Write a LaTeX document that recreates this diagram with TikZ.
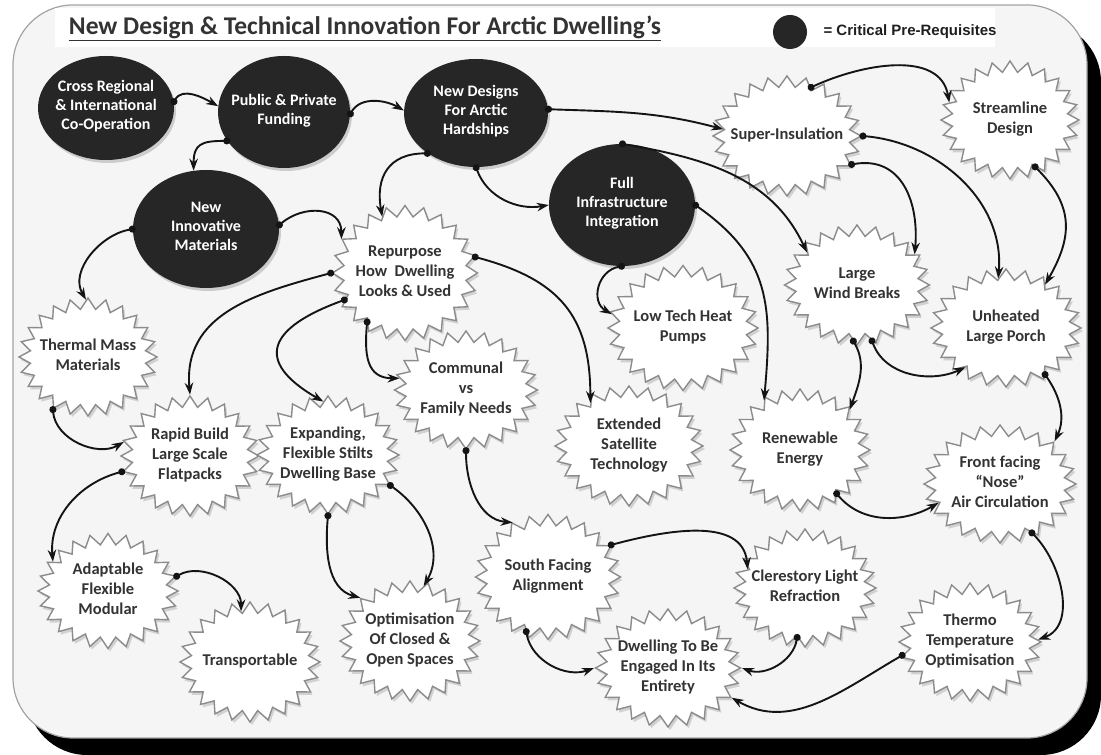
\documentclass[tikz,border=0pt]{standalone}
\usepackage{fontspec}
\setmainfont{Carlito}
\newfontfamily\legfont{Liberation Sans}
\usetikzlibrary{shapes.symbols,shapes.geometric,shadows,arrows.meta,calc}
\definecolor{ink}{HTML}{333333}
\definecolor{dark}{HTML}{262626}
\definecolor{rim}{HTML}{8C8C8C}
\definecolor{paper}{HTML}{F5F5F5}
\newcommand\burstlabel[1]{\smash{\makebox[0pt]{\raisebox{-3.5pt}{\begin{tabular}{@{}c@{}}#1\end{tabular}}}}}
\tikzset{
  crit/.style={ellipse, fill=dark, text=white, font=\bfseries\fontsize{16}{19}\selectfont,
    inner sep=0pt, drop shadow={opacity=0.35,shadow xshift=2pt,shadow yshift=-3pt}},
  burst/.style={starburst, starburst points=24, starburst point height=11pt, random starburst=0,
    fill=white, draw=rim, line width=1.4pt, text=ink, font=\bfseries\fontsize{16.5}{20}\selectfont,
    inner sep=0pt, drop shadow={opacity=0.3,shadow xshift=2pt,shadow yshift=-3pt}},
  link/.style={line width=1.9pt, black!92, shorten <=-3pt,
    {Circle[length=7pt]}-{Stealth[length=12pt,width=8.5pt]}},
}
\begin{document}
\begin{tikzpicture}[x=1pt,y=1pt]
\useasboundingbox (0,0) rectangle (1101,755);
% frame and shadow
\fill[black, rounded corners=60pt] (27,0) rectangle (1101,733);
\filldraw[fill=paper, draw=rim!80, line width=1.2pt, rounded corners=60pt] (13,17) rectangle (1087,750);
\fill[white] (55,708) rectangle (995,747);
% title and legend
\node[font=\bfseries\fontsize{25.5}{28}\selectfont, text=ink] (title) at (365,727)
  {\underline{New Design \& Technical Innovation For Arctic Dwelling's}};
\node[circle, fill=dark, minimum size=34pt, inner sep=0pt] (legdot) at (790,723) {};
\node[anchor=west, font=\legfont\bfseries\fontsize{15}{17}\selectfont, text=black!88] (legtxt) at (820,723)
  {= Critical Pre-Requisites};
% critical pre-requisites
\node[crit, minimum width=136pt, minimum height=104pt] (cross) at (106,647) {\burstlabel{Cross Regional\\\& International\\Co-Operation}};
\node[crit, minimum width=132pt, minimum height=112pt] (fund) at (284,643) {\burstlabel{Public \& Private\\Funding}};
\node[crit, minimum width=144pt, minimum height=108pt] (newd) at (476,642) {\burstlabel{New Designs\\For Arctic\\Hardships}};
\node[crit, minimum width=146pt, minimum height=118pt] (innov) at (206,526) {\burstlabel{New\\Innovative\\Materials}};
\node[crit, minimum width=146pt, minimum height=122pt] (full) at (622,550) {\burstlabel{Full\\Infrastructure\\Integration}};
% starbursts
\node[burst, minimum width=148pt, minimum height=120pt] (super) at (787,619) {\burstlabel{Super-Insulation}};
\node[burst, minimum width=138pt, minimum height=118pt] (stream) at (1010,635) {\burstlabel{Streamline\\Design}};
\node[burst, minimum width=145pt, minimum height=135pt] (repur) at (405,482) {\burstlabel{Repurpose\\How~ Dwelling\\Looks \& Used}};
\node[burst, minimum width=138pt, minimum height=118pt] (therm) at (88,398) {\burstlabel{Thermal Mass\\Materials}};
\node[burst, minimum width=138pt, minimum height=120pt] (rapid) at (190,299) {\burstlabel{Rapid Build\\Large Scale\\Flatpacks}};
\node[burst, minimum width=142pt, minimum height=118pt] (expand) at (328,300) {\burstlabel{Expanding,\\Flexible Stilts\\Dwelling Base}};
\node[burst, minimum width=143pt, minimum height=118pt] (comm) at (466,365) {\burstlabel{Communal\\vs\\Family Needs}};
\node[burst, minimum width=148pt, minimum height=120pt] (ext) at (629,309) {\burstlabel{Extended\\Satellite\\Technology}};
\node[burst, minimum width=150pt, minimum height=125pt] (low) at (683,427) {\burstlabel{Low Tech Heat\\Pumps}};
\node[burst, minimum width=145pt, minimum height=120pt] (wind) at (857,470) {\burstlabel{Large\\Wind Breaks}};
\node[burst, minimum width=150pt, minimum height=118pt] (unh) at (1006,427) {\burstlabel{Unheated\\Large Porch}};
\node[burst, minimum width=140pt, minimum height=122pt] (renew) at (800,305) {\burstlabel{Renewable\\Energy}};
\node[burst, minimum width=152pt, minimum height=118pt] (front) at (1000,271) {\burstlabel{Front facing\\“Nose”\\Air Circulation}};
\node[burst, minimum width=145pt, minimum height=125pt] (south) at (548,178) {\burstlabel{South Facing\\Alignment}};
\node[burst, minimum width=142pt, minimum height=118pt] (cler) at (805,167) {\burstlabel{Clerestory Light\\Refraction}};
\node[burst, minimum width=145pt, minimum height=118pt] (dwell) at (668,87) {\burstlabel{Dwelling To Be\\Engaged In Its\\Entirety}};
\node[burst, minimum width=142pt, minimum height=118pt] (thermo) at (970,113) {\burstlabel{Thermo\\Temperature\\Optimisation}};
\node[burst, minimum width=140pt, minimum height=115pt] (adapt) at (108,164) {\burstlabel{Adaptable\\Flexible\\Modular}};
\node[burst, minimum width=140pt, minimum height=120pt] (trans) at (250,93) {\burstlabel{Transportable}};
\node[burst, minimum width=140pt, minimum height=120pt] (optim) at (410,114) {\burstlabel{Optimisation\\Of Closed \&\\Open Spaces}};
% connectors
\draw[link] (cross.5) to[out=60,in=150] (fund.175);
\draw[link] (fund.-2) to[out=60,in=150] (newd.178);
\draw[link] (fund.207) to[out=180,in=90,looseness=1.5] (innov.102);
\draw[link] (innov.3) to[out=40,in=90,looseness=1.3] (repur.152);
\draw[link] (innov.180) to[out=190,in=120] (therm.92);
\draw[link] (newd.220) to[out=180,in=100,looseness=1.3] (repur.112);
\draw[link] (newd.270) to[out=-70,in=190] (full.180);
\draw[link] (newd.3) to[out=-2,in=165] (super.174);
\draw[link] (super.64) to[out=25,in=100] (stream.164);
\draw[link] (super.0) to[out=-5,in=85] (unh.99);
\draw[link] (super.-24) to[out=10,in=85,looseness=1.2] (wind.28);
\draw[link] (stream.-62) to[out=-45,in=60,looseness=1.2] (unh.48);
\draw[link] (full.90) to[out=-10,in=115] (wind.147);
\draw[link] (full.0) to[out=-35,in=85,looseness=1.15] (renew.126);
\draw[link] (full.270) to[out=190,in=150,looseness=1.3] (low.169);
\draw[link] (repur.13) to[out=-15,in=90,looseness=1.2] (ext.132);
\draw[link] (repur.180) to[out=195,in=95,looseness=1.1] (rapid.90);
\draw[link] (repur.204) to[out=200,in=150,looseness=2] (expand.95);
\draw[link] (repur.232) to[out=-95,in=180,looseness=1.3] (comm.170);
\draw[link] (therm.236) to[out=-85,in=210] (rapid.168);
\draw[link] (rapid.193) to[out=195,in=95] (adapt.152);
\draw[link] (adapt.12) to[out=30,in=90] (trans.100);
\draw[link] (expand.270) to[out=-95,in=165] (optim.139);
\draw[link] (expand.-26) to[out=-35,in=60] (optim.76);
\draw[link] (comm.270) to[out=-90,in=175] (south.123);
\draw[link] (south.27) to[out=15,in=95] (cler.162);
\draw[link] (south.248) to[out=-80,in=200] (dwell.180);
\draw[link] (cler.261) to[out=-100,in=-20] (dwell.0);
\draw[link] (thermo.191) to[out=210,in=-30] (dwell.-25);
\draw[link] (wind.266) to[out=-60,in=70] (renew.39);
\draw[link] (wind.-75) to[out=-70,in=205] (unh.224);
\draw[link] (unh.-50) to[out=-55,in=65] (front.38);
\draw[link] (renew.-50) to[out=-50,in=210] (front.197);
\draw[link] (front.-57) to[out=-45,in=20] (thermo.2);
\end{tikzpicture}
\end{document}
